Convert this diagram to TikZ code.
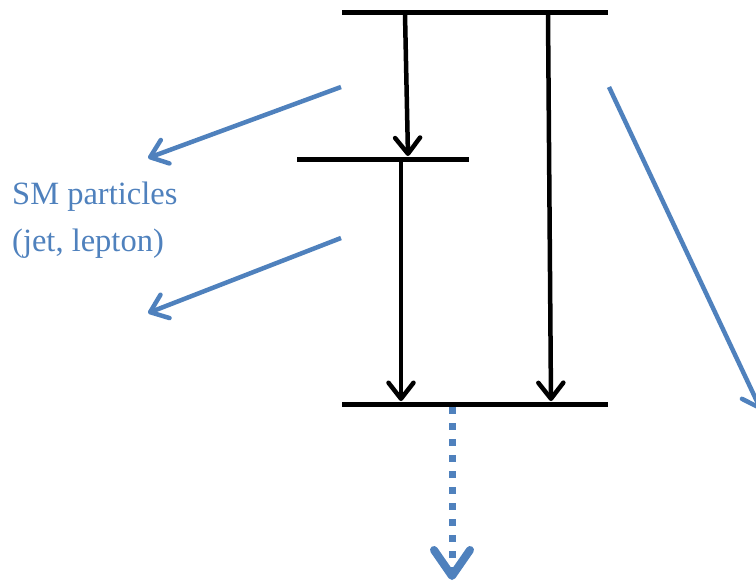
\documentclass[tikz,border=0pt]{standalone}
\usepackage{fontspec}
\setmainfont{Liberation Serif}
\usetikzlibrary{arrows.meta}
\definecolor{smblue}{HTML}{4F81BD}
\tikzset{
  level/.style={line width=5pt, black},
  trans/.style={line width=4.5pt, black, -{Straight Barb[length=16pt,width=25pt,line width=4.5pt,round]}},
  bluearr/.style={line width=4.5pt, smblue, -{Straight Barb[length=16pt,width=25pt,line width=4.5pt,round]}},
  dotarr/.style={line width=7pt, smblue, dash pattern=on 7pt off 9pt, -{Straight Barb[length=26pt,width=36pt,line width=8pt,round]}},
  lbl/.style={smblue, font=\fontsize{32.5}{47}\selectfont, align=left, anchor=base west, inner sep=0pt}
}
\begin{document}
\begin{tikzpicture}[x=1pt,y=-1pt]
\useasboundingbox (0,0) rectangle (756,587);
\clip (0,0) rectangle (756,587);
% levels
\coordinate (t1) at (342,12);  \coordinate (t2) at (608,12);
\coordinate (m1) at (297,159); \coordinate (m2) at (469,159);
\coordinate (b1) at (342,404); \coordinate (b2) at (608,404);
\draw[level] (t1) -- (t2);
\draw[level] (m1) -- (m2);
\draw[level] (b1) -- (b2);
% transitions
\coordinate (a1s) at (405,14);  \coordinate (a1e) at (408,156);
\coordinate (a2s) at (401,161); \coordinate (a2e) at (401,401);
\coordinate (a3s) at (548,14);  \coordinate (a3e) at (551,401);
\draw[trans] (a1s) -- (a1e);
\draw[trans] (a2s) -- (a2e);
\draw[trans] (a3s) -- (a3e);
% SM particle arrows
\coordinate (s1s) at (341,87);  \coordinate (s1e) at (148,158);
\coordinate (s2s) at (341,238); \coordinate (s2e) at (148,313);
\draw[bluearr] (s1s) -- (s1e);
\draw[bluearr] (s2s) -- (s2e);
% right arrow
\coordinate (rs) at (609,87); \coordinate (re) at (761,410);
\draw[bluearr] (rs) -- (re);
% dotted arrow
\coordinate (ds) at (452,407); \coordinate (de) at (452,580);
\draw[dotarr] (ds) -- (de);
% label
\node[lbl] (sm) at (12,251) {SM particles\\(jet, lepton)};
\end{tikzpicture}
\end{document}
